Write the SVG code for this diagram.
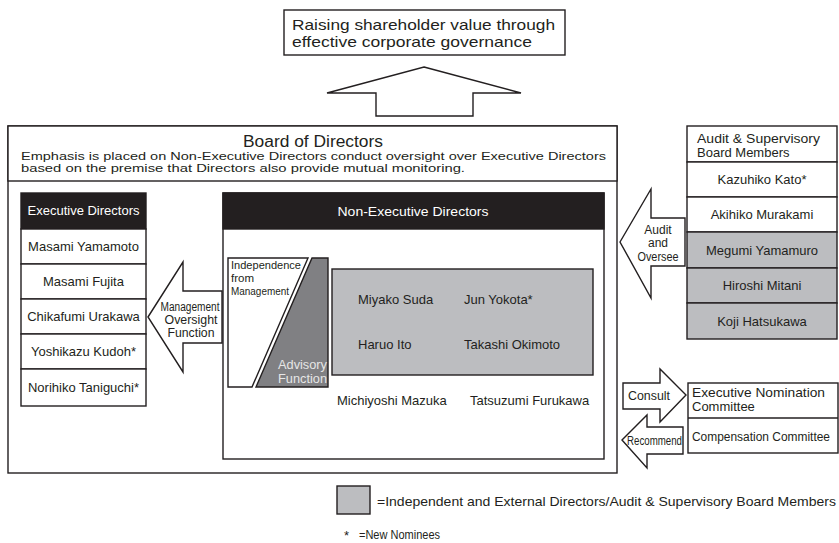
<svg xmlns="http://www.w3.org/2000/svg" width="839" height="543" viewBox="0 0 839 543">
<style>
text{font-family:"Liberation Sans","DejaVu Sans",sans-serif;fill:#231f20}
.bx{fill:#fff;stroke:#231f20;stroke-width:1.4}
.bk{fill:#231f20;stroke:#231f20;stroke-width:1.4}
.gr{fill:#bcbdc0;stroke:#231f20;stroke-width:1.4}
.dg{fill:#808083;stroke:#231f20;stroke-width:1.4}
.n{font-size:13px}
.c{text-anchor:middle}
.s{font-size:12px}
.w{fill:#fff}
.lw{fill:#e6e6e6}
</style>
<rect width="839" height="543" fill="#fff"/>

<g id="goal">
<rect class="bx" x="284" y="10" width="281" height="45"/>
<text x="292" y="30" font-size="15" textLength="263" lengthAdjust="spacingAndGlyphs">Raising shareholder value through</text>
<text x="292" y="47" font-size="15" textLength="240" lengthAdjust="spacingAndGlyphs">effective corporate governance</text>
</g>

<g id="board">
<rect class="bx" x="8" y="126" width="609" height="347"/>
<rect class="bx" x="8" y="126" width="609" height="55" stroke-width="2"/>
<text class="c" x="313" y="147" font-size="16" textLength="140" lengthAdjust="spacingAndGlyphs">Board of Directors</text>
<text x="21" y="159.5" font-size="11.5" textLength="585" lengthAdjust="spacingAndGlyphs">Emphasis is placed on Non-Executive Directors conduct oversight over Executive Directors</text>
<text x="21" y="171.5" font-size="11.5" textLength="444" lengthAdjust="spacingAndGlyphs">based on the premise that Directors also provide mutual monitoring.</text>
</g>

<g id="executive-directors">
<rect class="bk" x="21" y="193" width="125" height="36"/>
<text class="c w s" x="83.5" y="215" textLength="112" lengthAdjust="spacingAndGlyphs">Executive Directors</text>
<rect class="bx" x="21" y="229" width="125" height="35"/>
<rect class="bx" x="21" y="264" width="125" height="35"/>
<rect class="bx" x="21" y="299" width="125" height="35"/>
<rect class="bx" x="21" y="334" width="125" height="35"/>
<rect class="bx" x="21" y="369" width="125" height="37"/>
<text class="c n" x="83.5" y="251">Masami Yamamoto</text>
<text class="c n" x="83.5" y="286">Masami Fujita</text>
<text class="c n" x="83.5" y="321">Chikafumi Urakawa</text>
<text class="c n" x="83.5" y="356">Yoshikazu Kudoh*</text>
<text class="c n" x="83.5" y="392">Norihiko Taniguchi*</text>
</g>

<g id="non-executive-directors">
<rect class="bx" x="223" y="193" width="381" height="266"/>
<rect class="bk" x="223" y="193" width="381" height="36"/>
<text class="c w" x="413" y="216" font-size="12.5" textLength="151" lengthAdjust="spacingAndGlyphs">Non-Executive Directors</text>
<polygon class="bx" points="228,258 308,258 252,387 228,387"/>
<polygon class="dg" points="312,258 328,258 328,387 256,387"/>
<text x="231" y="269" font-size="11.5" textLength="70" lengthAdjust="spacingAndGlyphs">Independence</text>
<text x="231" y="282" font-size="11.5">from</text>
<text x="231" y="295" font-size="11.5" textLength="58" lengthAdjust="spacingAndGlyphs">Management</text>
<text class="lw" x="327" y="369" font-size="12" text-anchor="end" textLength="49" lengthAdjust="spacingAndGlyphs">Advisory</text>
<text class="lw" x="327" y="383" font-size="12" text-anchor="end" textLength="49" lengthAdjust="spacingAndGlyphs">Function</text>
<rect class="gr" x="332" y="269" width="261" height="106"/>
<text class="n" x="358" y="304">Miyako Suda</text>
<text class="n" x="464" y="304">Jun Yokota*</text>
<text class="n" x="358" y="349">Haruo Ito</text>
<text class="n" x="464" y="349">Takashi Okimoto</text>
<text class="n" x="337" y="405">Michiyoshi Mazuka</text>
<text class="n" x="470" y="405">Tatsuzumi Furukawa</text>
</g>

<g id="audit-board">
<rect class="bx" x="687" y="126" width="150" height="36" stroke-width="2"/>
<text x="697" y="143" font-size="13" textLength="123" lengthAdjust="spacingAndGlyphs">Audit &amp; Supervisory</text>
<text x="697" y="157" font-size="13">Board Members</text>
<rect class="bx" x="687" y="162" width="150" height="35"/>
<rect class="bx" x="687" y="197" width="150" height="35"/>
<rect class="gr" x="687" y="232" width="150" height="36"/>
<rect class="gr" x="687" y="268" width="150" height="35"/>
<rect class="gr" x="687" y="303" width="150" height="36"/>
<text class="c n" x="762" y="184">Kazuhiko Kato*</text>
<text class="c n" x="762" y="219">Akihiko Murakami</text>
<text class="c n" x="762" y="254.5">Megumi Yamamuro</text>
<text class="c n" x="762" y="290">Hiroshi Mitani</text>
<text class="c n" x="762" y="325.5">Koji Hatsukawa</text>
</g>

<g id="committees">
<rect class="bx" x="688" y="383" width="150" height="70"/>
<line x1="688" y1="418" x2="838" y2="418" stroke="#231f20" stroke-width="1.4"/>
<text class="n" x="692" y="397" textLength="133" lengthAdjust="spacingAndGlyphs">Executive Nomination</text>
<text class="n" x="692" y="411">Committee</text>
<text x="692" y="441" font-size="12.5" textLength="138" lengthAdjust="spacingAndGlyphs">Compensation Committee</text>
</g>

<g id="connectors">
<polygon class="bx" points="424,67 521,93 473,93 473,116 376,116 376,93 327,93"/>
<polygon class="bx" points="148,317 183,262 183,291 222,291 222,343 183,343 183,372"/>
<text class="c s" x="190" y="311" font-size="11.5" textLength="59" lengthAdjust="spacingAndGlyphs">Management</text>
<text class="c s" x="191" y="324" textLength="53" lengthAdjust="spacingAndGlyphs">Oversight</text>
<text class="c s" x="191" y="337" textLength="47" lengthAdjust="spacingAndGlyphs">Function</text>
<polygon class="bx" points="620,242 651,189 651,218 685,218 685,266 651,266 651,298"/>
<text class="c s" x="658" y="234">Audit</text>
<text class="c s" x="658" y="247">and</text>
<text class="c s" x="658" y="261" textLength="41" lengthAdjust="spacingAndGlyphs">Oversee</text>
<polygon class="bx" points="623,383 660,383 660,369 686,395 660,422 660,409 623,409"/>
<text class="s" x="628" y="400" textLength="42" lengthAdjust="spacingAndGlyphs">Consult</text>
<polygon class="bx" points="622,440 647,415 647,427 683,427 683,454 647,454 647,468"/>
<text class="s" x="627" y="445" textLength="55" lengthAdjust="spacingAndGlyphs">Recommend</text>
</g>

<g id="legend">
<rect class="gr" x="337" y="486" width="33" height="28"/>
<text x="377" y="506" font-size="13" textLength="459" lengthAdjust="spacingAndGlyphs">=Independent and External Directors/Audit &amp; Supervisory Board Members</text>
<text x="344" y="540" font-size="13">*</text>
<text x="359" y="539" font-size="12" textLength="81" lengthAdjust="spacingAndGlyphs">=New Nominees</text>
</g>
</svg>
